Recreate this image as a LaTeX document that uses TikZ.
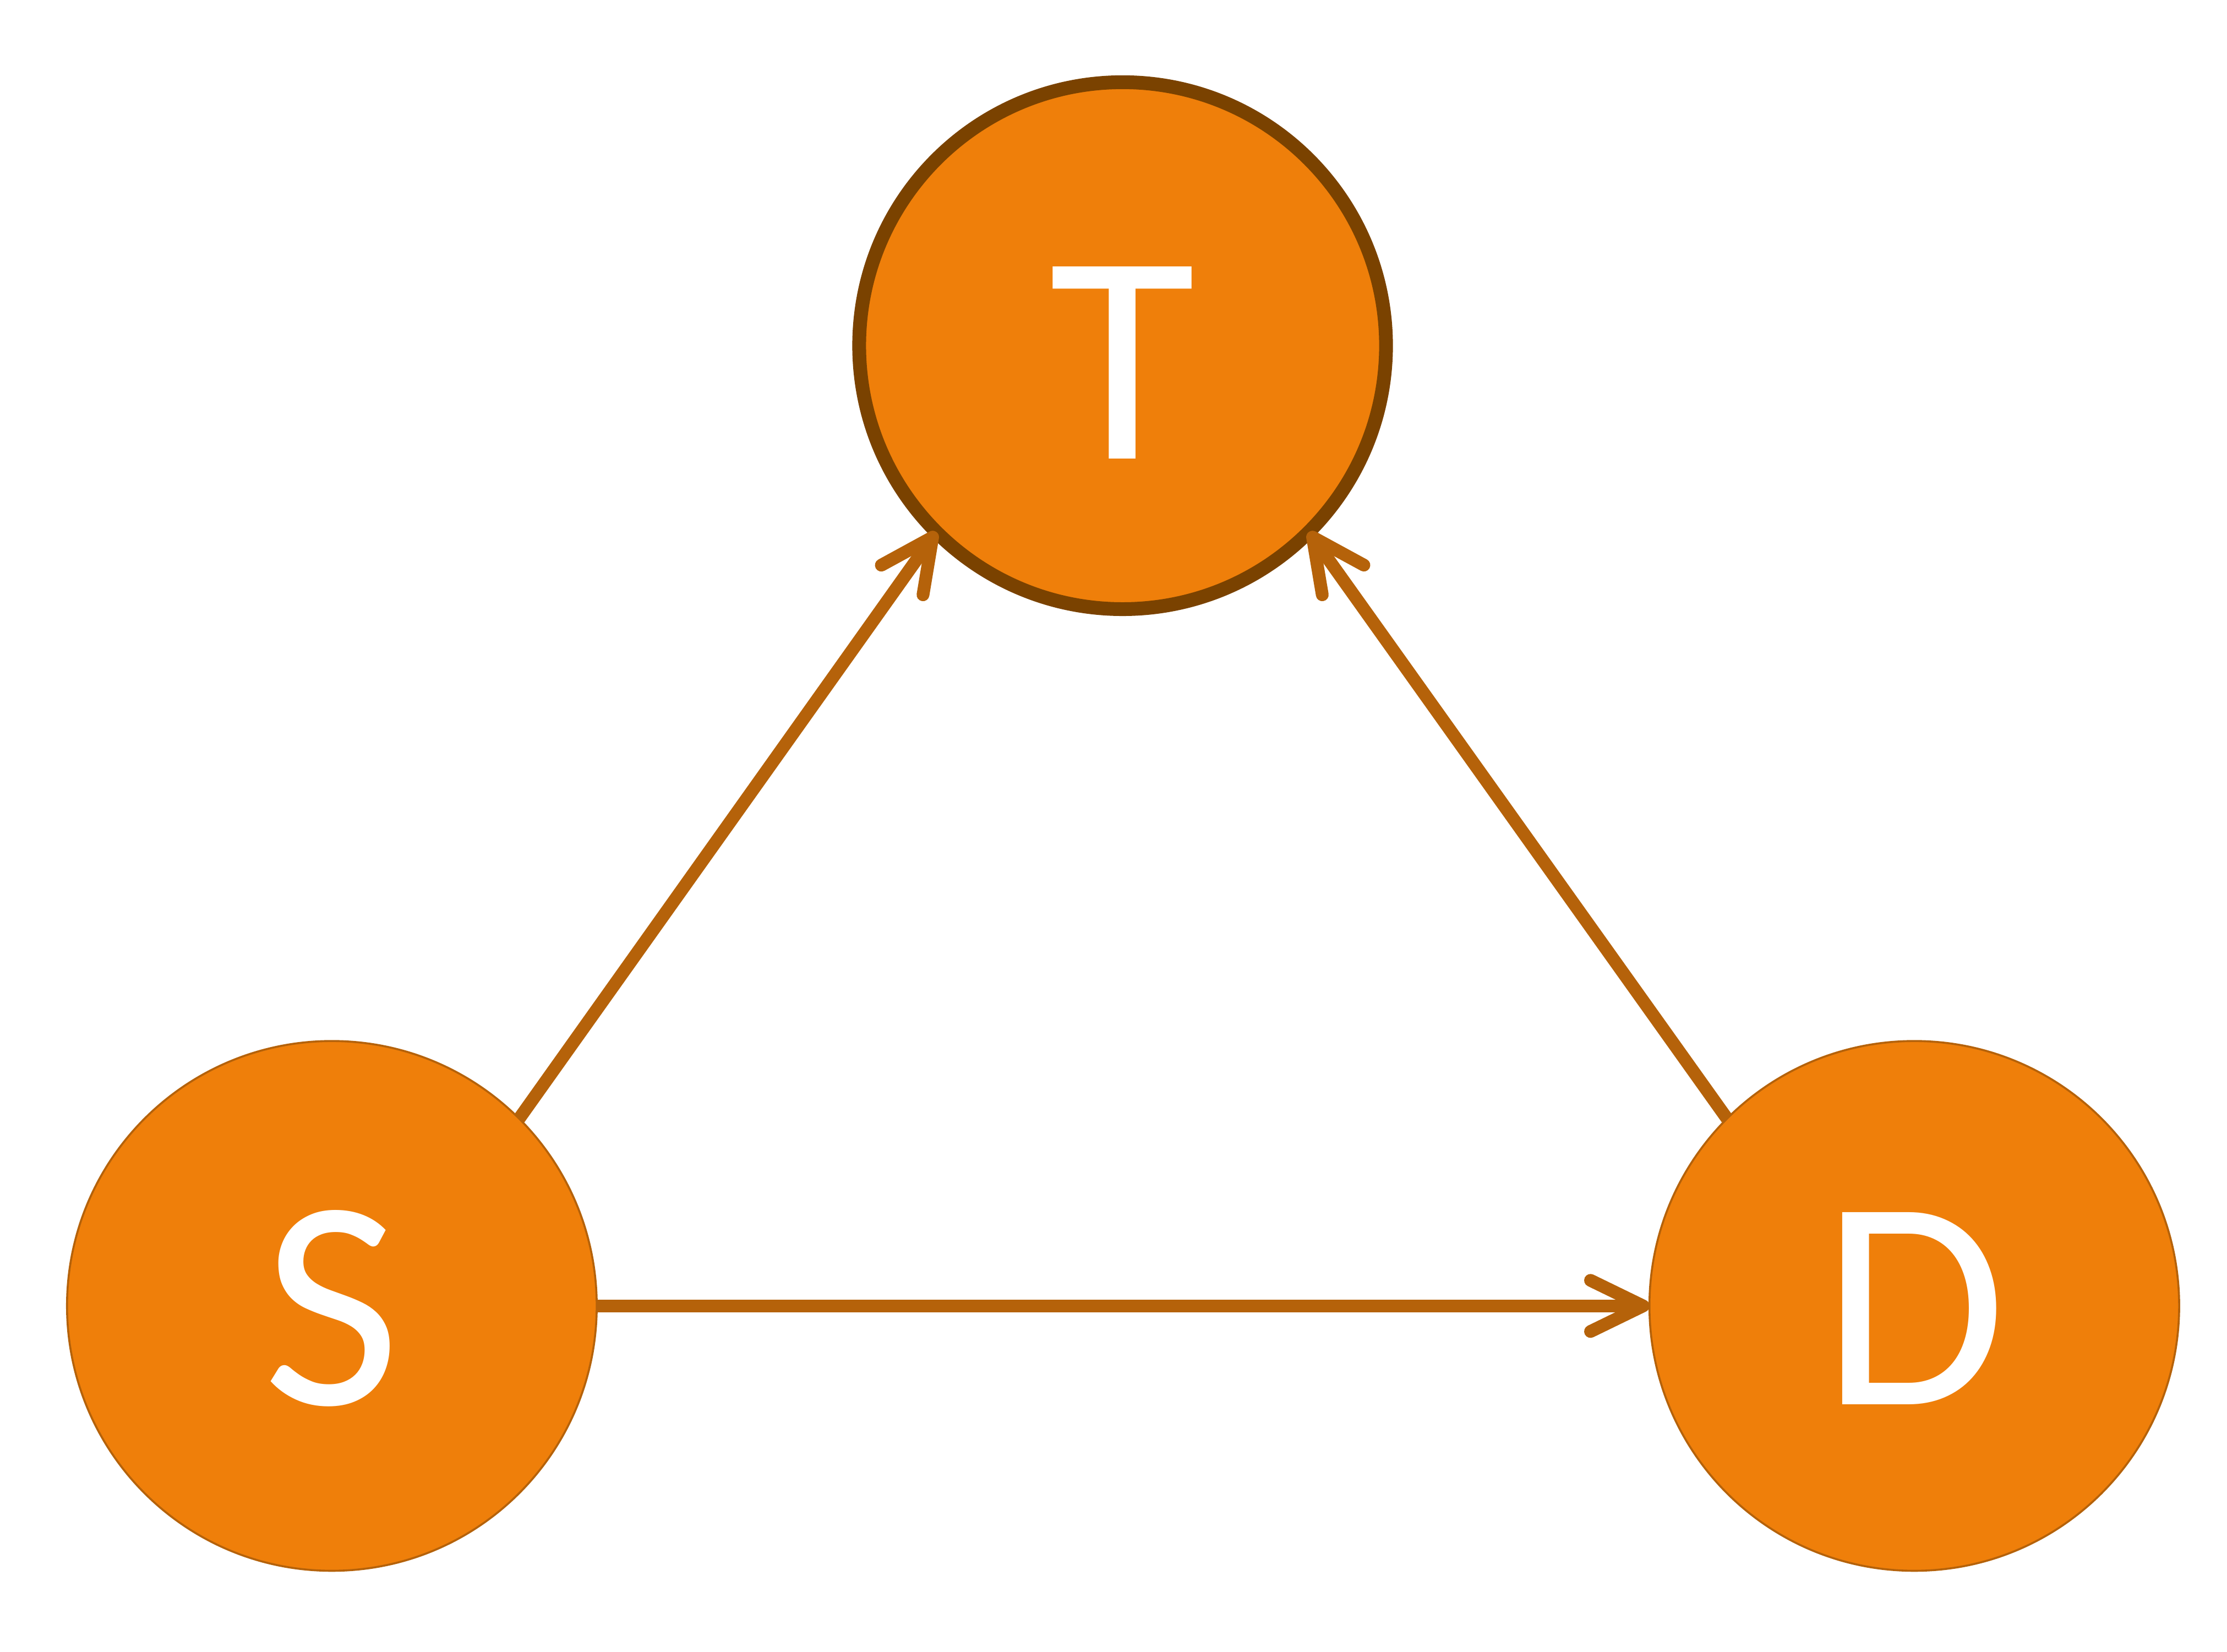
\documentclass[tikz,border=0pt]{standalone}
\usepackage{fontspec}
\setmainfont{Carlito}
\usetikzlibrary{arrows.meta}
\definecolor{fillor}{HTML}{EF7F0A}
\definecolor{edgebr}{HTML}{7A4200}
\definecolor{arrbr}{HTML}{B5620A}
\begin{document}
\begin{tikzpicture}[
vert/.style={circle,fill=fillor,draw=arrbr,line width=0.4pt,inner sep=0pt,outer sep=0pt,
  minimum size=3.73cm,text=white,font=\fontsize{60}{72}\selectfont,text height=1.39cm,text depth=0pt},
arr/.style={arrbr,line width=0.09cm,-{Straight Barb[length=0.37cm,width=0.36cm,round]}}]
\useasboundingbox (0,0) rectangle (15.682,11.628);
\node[vert,draw=edgebr,line width=0.097cm,minimum size=3.71cm,text height=1.59cm] (T) at (7.905,9.194) {T};
\node[vert] (S) at (2.337,2.433) {S};
\node[vert] (D) at (13.48,2.433) {D};
\draw[arr] (S.north east) -- (T.south west);
\draw[arr] (D.north west) -- (T.south east);
\draw[arr] (S.east) -- (D.west);
\end{tikzpicture}
\end{document}
